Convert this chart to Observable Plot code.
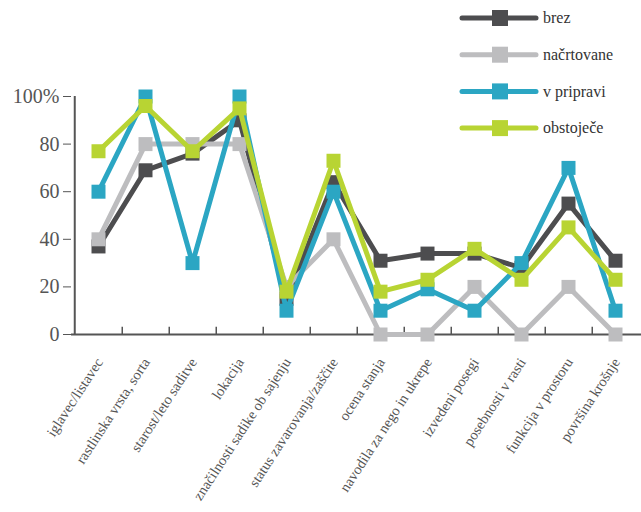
<!DOCTYPE html>
<html><head><meta charset="utf-8">
<script src="https://cdn.jsdelivr.net/npm/d3@7"></script>
<script src="https://cdn.jsdelivr.net/npm/@observablehq/plot@0.6"></script>
<style>
body{margin:0;background:#fff;}
#wrap{position:relative;width:641px;height:512px;overflow:hidden;}
#legend{position:absolute;left:0;top:0;}
#legend text{font-family:"Liberation Serif","DejaVu Serif",serif;}
</style></head><body>
<div id="wrap"><div id="chart"></div><div id="legend"></div></div>
<script>
const categories = ["iglavec/listavec","rastlinska vrsta, sorta","starost/leto saditve","lokacija","značilnosti sadike ob sajenju","status zavarovanja/zaščite","ocena stanja","navodila za nego in ukrepe","izvedeni posegi","posebnosti v rasti","funkcija v prostoru","površina krošnje"];
const seriesNames = ["brez","načrtovane","v pripravi","obstoječe"];
const brez       = [37, 69, 76, 90, 15, 64, 31, 34, 34, 28, 55, 31];
const nacrtovane = [40, 80, 80, 80, 20, 40, 0, 0, 20, 0, 20, 0];
const vPripravi  = [60, 100, 30, 100, 10, 60, 10, 19, 10, 30, 70, 10];
const obstojece  = [77, 96, 77, 95, 18, 73, 18, 23, 36, 23, 45, 23];
const seriesValues = [brez, nacrtovane, vPripravi, obstojece];
const colors = ["#4d4d4f","#bdbdbf","#2ba6c3","#b8d433"];
const yTicks = [0, 20, 40, 60, 80, 100];

const rows = [];
seriesNames.forEach((s, i) => seriesValues[i].forEach((v, j) => rows.push({series: s, cat: categories[j], value: v})));

const FONT = "'Liberation Serif','DejaVu Serif',serif";
const step = (641 - 71) / categories.length;

const seriesMarks = seriesNames.flatMap(s => {
  const d = rows.filter(r => r.series === s);
  return [
    Plot.line(d, {x: "cat", y: "value", stroke: "series", strokeWidth: 5}),
    Plot.dot(d, {x: "cat", y: "value", fill: "series", symbol: "square", r: 7.9, stroke: null})
  ];
});

const chart = Plot.plot({
  width: 641, height: 512,
  marginLeft: 71, marginRight: 0, marginTop: 96, marginBottom: 178,
  style: {fontFamily: FONT, fontSize: "20px", color: "#555", background: "#fff"},
  x: {type: "point", domain: categories, padding: 0.5, axis: null},
  y: {domain: [0, 100], ticks: yTicks, tickFormat: d => d === 100 ? "100%" : String(d), tickSize: 8, tickPadding: 4, label: null},
  color: {domain: seriesNames, range: colors},
  marks: [
    Plot.ruleX([categories[0]], {y1: 0, y2: 100, dx: -step / 2, stroke: "#555", strokeWidth: 2}),
    Plot.ruleY([0], {stroke: "#555", strokeWidth: 2}),
    Plot.ruleX(categories.slice(0, -1), {y1: 0, y2: 3, dx: step / 2, stroke: "#555", strokeWidth: 1.5}),
    ...seriesMarks,
    Plot.text(categories, {x: d => d, y: 0, text: d => d, rotate: -57, textAnchor: "end", dx: 1, dy: 25, fontSize: 14.5, fill: "#555"})
  ]
});
document.getElementById("chart").appendChild(chart);

// legend
const lg = d3.select("#legend").append("svg").attr("width", 641).attr("height", 150);
seriesNames.forEach((s, i) => {
  const y = 18 + i * 36.7;
  const g = lg.append("g");
  g.append("line").attr("x1", 462).attr("x2", 536).attr("y1", y).attr("y2", y)
    .attr("stroke", colors[i]).attr("stroke-width", 5).attr("stroke-linecap", "round");
  g.append("rect").attr("x", 492).attr("y", y - 8).attr("width", 16).attr("height", 16).attr("fill", colors[i]);
  g.append("text").attr("x", 543).attr("y", y).attr("dy", "0.32em")
    .attr("font-family", "Liberation Serif, DejaVu Serif, serif")
    .attr("font-size", 16).attr("fill", "#333").text(s);
});
</script>
</body></html>
